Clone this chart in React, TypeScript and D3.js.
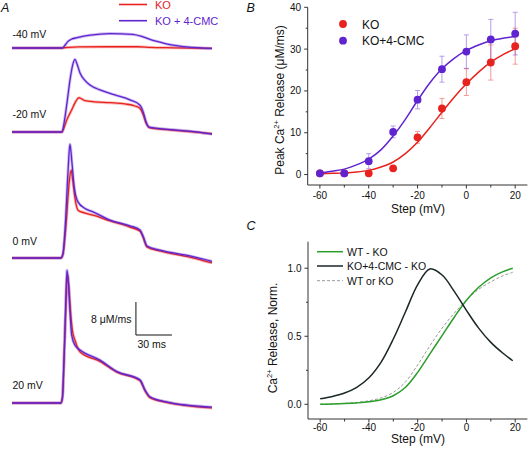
import React from "react";
import * as d3 from "d3";

const FONT = "'Liberation Sans', Arial, sans-serif";
const RED = "#e8221e";
const PURPLE = "#5f24d0";
const GREEN = "#2a9e2a";
const DARK = "#1b2727";
const AXIS = "#333";

type P = [number, number];

// ---------- Panel A: release traces [time (ms), flux (uM/ms)] ----------
const koM40: P[] = [[0,0],[40,0],[45,0.1],[55,0.25],[80,0.3],[105,0.3],[115,0.15],[135,0.05],[166.7,-0.1]];
const cmcM40: P[] = [[0,0],[42,0],[44,0.6],[46.7,1.6],[50,2.2],[54.2,2.5],[65,3.1],[81.7,3.5],[100.8,3.3],[109.2,2.7],[115,2.1],[120.8,1.6],[131.7,0.8],[145.8,0.25],[166.7,-0.1]];
const koM20: P[] = [[0,0],[41.7,0],[43.3,1],[45.8,3],[50,5.5],[53.3,7.5],[55.8,8.3],[60.8,7.6],[69.2,7.3],[81.7,7.1],[94.2,6.8],[102.5,6.3],[106.7,5.7],[109.2,4.3],[111.7,2.2],[115,1.0],[131.7,0.5],[166.7,-0.4]];
const cmcM20: P[] = [[0,0],[41.7,0],[43.3,2],[45.8,7],[48.3,12.5],[50.8,16.5],[52.5,17.6],[54.2,16.5],[56.7,14.3],[60.8,12.5],[65,11.4],[73.3,10.2],[85.8,9.0],[98.3,7.8],[106.7,6.5],[109.2,5.0],[111.7,2.5],[114.2,1.2],[131.7,0.6],[148.3,0.2],[166.7,-0.5]];
const ko0: P[] = [[0,0],[40.8,0],[42.5,1],[45,8],[47.5,17.7],[49.2,21.3],[50.8,18.5],[52.5,14.5],[55,11.6],[60.8,10.9],[67.5,10.4],[81.7,9.0],[98.3,7.5],[106.7,6.5],[109.2,5.1],[112.5,2.7],[123.3,1.7],[148.3,0.2],[166.7,-1.2]];
const cmc0: P[] = [[0,0],[40.8,0],[42.5,1],[44.2,6.8],[46.7,21],[48.3,27.6],[50,23],[51.7,17.5],[55,13.6],[60.8,12.0],[67.5,11.2],[81.7,9.2],[98.3,7.8],[106.7,6.8],[109.2,5.3],[112.5,2.9],[123.3,1.9],[148.3,0.5],[166.7,-0.8]];
const ko20: P[] = [[0,0],[40.8,0],[42.1,1.5],[43.3,10],[44.6,21],[46.2,31],[47.5,27.5],[48.8,22],[50.4,17.5],[52.5,15.2],[55,13.2],[57,12.3],[73.3,10.1],[87.5,7.5],[106.7,5.4],[110.8,3.0],[115,1.3],[128.3,0.2],[166.7,-1.2]];
const cmc20: P[] = [[0,0],[40.8,0],[42.1,1.5],[43.3,10],[44.6,22],[45.8,32.2],[47.1,29],[48.3,22.5],[49.7,16.5],[52.5,14],[57,12.8],[73.3,10.4],[87.5,7.6],[106.7,5.6],[110.8,3.2],[115,1.5],[128.3,0.3],[166.7,-1.0]];
const traceLabels = ["-40 mV", "-20 mV", "0 mV", "20 mV"];
const scaleBarFlux = 8;
const scaleBarTime = 30;

// ---------- Panel B: peak release vs step ----------
const stepsB = [-60, -50, -40, -30, -20, -10, 0, 10, 20];
const koPeak = [0.3, 0.3, 0.3, 1.5, 8.9, 15.8, 22.1, 26.8, 30.7];
const koErr = [0.2, 0.2, 0.2, 0.3, 1.4, 2.4, 3.2, 4.2, 4.3];
const cmcPeak = [0.3, 0.3, 3.2, 10.2, 17.9, 25.2, 29.4, 32.3, 33.7];
const cmcErr = [0.2, 0.2, 1.8, 1.4, 2.2, 3.1, 4.0, 4.8, 5.1];
const fitSteps = [-60, -55, -50, -45, -40, -35, -30, -25, -20, -15, -10, -5, 0, 5, 10, 15, 20];
const koFit = [0.2, 0.3, 0.4, 0.6, 1.0, 1.8, 3.0, 5.0, 7.7, 11.2, 14.9, 18.5, 21.7, 24.5, 26.9, 28.7, 30.1];
const cmcFit = [0.4, 0.8, 1.3, 2.3, 3.7, 5.9, 9.2, 13.2, 17.7, 21.9, 25.3, 27.8, 29.7, 31.0, 32.0, 32.6, 33.0];

// ---------- Panel C: normalized release ----------
const normSteps = [-60, -55, -50, -45, -40, -35, -30, -25, -20, -15, -10, -5, 0, 5, 10, 15, 19];
const wtMinusKo = [0.0, 0.002, 0.005, 0.01, 0.018, 0.033, 0.063, 0.125, 0.235, 0.37, 0.505, 0.64, 0.765, 0.86, 0.93, 0.975, 1.0];
const cmcMinusKo = [0.04, 0.058, 0.083, 0.125, 0.195, 0.31, 0.48, 0.68, 0.88, 0.995, 0.95, 0.83, 0.69, 0.56, 0.455, 0.375, 0.32];
const wtOrKo = [0.0, 0.003, 0.007, 0.014, 0.026, 0.047, 0.088, 0.165, 0.29, 0.43, 0.56, 0.67, 0.765, 0.845, 0.9, 0.945, 0.97];

const zip = (xs: number[], ys: number[]): P[] => xs.map((x, i) => [x, ys[i]]);

export default function App() {
  // Panel A scales
  const xA = d3.scaleLinear().domain([0, 166.7]).range([12, 212]);
  const yA = d3.scaleLinear().domain([0, 8]).range([0, -33]);
  const bases = [48, 132, 258, 403];
  const tracePairs: [P[], P[]][] = [[koM40, cmcM40], [koM20, cmcM20], [ko0, cmc0], [ko20, cmc20]];
  const labelY = [38.3, 118.3, 245, 389.3];
  const traceLine = (base: number) =>
    d3.line<P>().x((d) => xA(d[0])).y((d) => base + yA(d[1])).curve(d3.curveMonotoneX);

  // Panel B scales
  const xB = d3.scaleLinear().domain([-65, 25]).range([307.7, 527.4]);
  const yB = d3.scaleLinear().domain([-2.5, 40]).range([185, 7.3]);
  const lineB = d3.line<P>().x((d) => xB(d[0])).y((d) => yB(d[1])).curve(d3.curveCatmullRom.alpha(0.5));

  // Panel C scales
  const xC = d3.scaleLinear().domain([-65, 25]).range([308, 527.4]);
  const yC = d3.scaleLinear().domain([-0.108, 1.195]).range([419, 241.7]);
  const lineC = d3.line<P>().x((d) => xC(d[0])).y((d) => yC(d[1])).curve(d3.curveCatmullRom.alpha(0.5));

  const xTicks = d3.range(-60, 21, 10);

  const xAxis = (xs: d3.ScaleLinear<number, number>, y0: number, labY: number) => (
    <g>
      <line x1={xs.range()[0]} x2={xs.range()[1]} y1={y0} y2={y0} stroke={AXIS} strokeWidth={1} />
      {xTicks.map((t) => {
        const major = t % 20 === 0;
        return (
          <g key={t}>
            <line x1={xs(t)} x2={xs(t)} y1={y0} y2={y0 + (major ? 3.5 : 2.5)} stroke={AXIS} strokeWidth={1} />
            {major && (
              <text x={xs(t)} y={labY} textAnchor="middle" fontSize={10} fill="#111">{t}</text>
            )}
          </g>
        );
      })}
    </g>
  );

  const yAxis = (
    ys: d3.ScaleLinear<number, number>,
    x0: number,
    majors: number[],
    minors: number[],
    fmt: (v: number) => string
  ) => (
    <g>
      <line x1={x0} x2={x0} y1={ys.range()[0]} y2={ys.range()[1]} stroke={AXIS} strokeWidth={1} />
      {minors.map((v) => (
        <line key={"m" + v} x1={x0 - 2} x2={x0} y1={ys(v)} y2={ys(v)} stroke={AXIS} strokeWidth={1} />
      ))}
      {majors.map((v) => (
        <g key={v}>
          <line x1={x0 - 3.5} x2={x0} y1={ys(v)} y2={ys(v)} stroke={AXIS} strokeWidth={1} />
          <text x={x0 - 6.5} y={ys(v)} dy="0.35em" textAnchor="end" fontSize={10} fill="#111">{fmt(v)}</text>
        </g>
      ))}
    </g>
  );

  const koPts = zip(stepsB, koPeak);
  const cmcPts = zip(stepsB, cmcPeak);

  const errBars = (pts: P[], errs: number[], color: string) =>
    pts.map((d, i) => {
      const x = xB(d[0]);
      const y1 = yB(d[1] - errs[i]);
      const y2 = yB(d[1] + errs[i]);
      return (
        <g key={i} stroke={color} strokeWidth={1} opacity={0.45}>
          <line x1={x} x2={x} y1={y1} y2={y2} />
          <line x1={x - 2.5} x2={x + 2.5} y1={y1} y2={y1} />
          <line x1={x - 2.5} x2={x + 2.5} y1={y2} y2={y2} />
        </g>
      );
    });

  const sbX = xA(103.3);
  const sbY = 335;

  return (
    <div style={{ position: "absolute", left: 0, top: 0 }}>
      <svg width={529} height={449} style={{ display: "block", background: "#fff" }} fontFamily={FONT}>
        {/* ---------------- Panel A ---------------- */}
        <text x={1} y={12} fontSize={12.5} fontStyle="italic" fill="#111">A</text>
        <line x1={119} x2={147} y1={4.5} y2={4.5} stroke={RED} strokeWidth={1.6} />
        <text x={155} y={8.5} fontSize={11} fill={RED}>KO</text>
        <line x1={119} x2={147} y1={20.7} y2={20.7} stroke={PURPLE} strokeWidth={1.6} />
        <text x={155} y={25} fontSize={11} fill={PURPLE}>KO + 4-CMC</text>

        {tracePairs.map(([ko, cmc], i) => {
          const ln = traceLine(bases[i]);
          return (
            <g key={i} fill="none" strokeLinejoin="round">
              <path d={ln(ko) || ""} stroke={RED} strokeWidth={3} opacity={0.3} />
              <path d={ln(ko) || ""} stroke={RED} strokeWidth={1.3} />
              <path d={ln(cmc) || ""} stroke={PURPLE} strokeWidth={3} opacity={0.3} />
              <path d={ln(cmc) || ""} stroke={PURPLE} strokeWidth={1.3} />
            </g>
          );
        })}
        {traceLabels.map((t, i) => (
          <text key={t} x={12.5} y={labelY[i]} fontSize={10.5} fill="#111">{t}</text>
        ))}

        {/* scale bar */}
        <line x1={sbX} x2={sbX} y1={sbY} y2={sbY + yA(scaleBarFlux)} stroke="#111" strokeWidth={1} />
        <line x1={sbX} x2={xA(103.3 + scaleBarTime)} y1={sbY} y2={sbY} stroke="#111" strokeWidth={1} />
        <text x={131.5} y={322.7} textAnchor="end" fontSize={10.5} fill="#111">8 μM/ms</text>
        <text x={137.5} y={348.3} fontSize={10.5} fill="#111">30 ms</text>

        {/* ---------------- Panel B ---------------- */}
        <text x={246.5} y={12} fontSize={12.5} fontStyle="italic" fill="#111">B</text>
        {xAxis(xB, 185, 198.5)}
        {yAxis(yB, 307.7, [0, 10, 20, 30, 40], [5, 15, 25, 35], (v) => String(v))}
        <text x={418} y={212.5} textAnchor="middle" fontSize={12} fill="#111">Step (mV)</text>
        <text transform="translate(284,100) rotate(-90)" textAnchor="middle" fontSize={12} fill="#111">
          Peak Ca<tspan fontSize={7.5} dy={-5}>2+</tspan><tspan dy={5}> Release (μM/ms)</tspan>
        </text>

        {errBars(koPts, koErr, RED)}
        {errBars(cmcPts, cmcErr, PURPLE)}
        <path d={lineB(zip(fitSteps, koFit)) || ""} fill="none" stroke={RED} strokeWidth={1.5} />
        <path d={lineB(zip(fitSteps, cmcFit)) || ""} fill="none" stroke={PURPLE} strokeWidth={1.5} />
        {koPts.map((d, i) => (
          <circle key={"k" + i} cx={xB(d[0])} cy={yB(d[1])} r={3.9} fill={RED} />
        ))}
        {cmcPts.map((d, i) => (
          <circle key={"c" + i} cx={xB(d[0])} cy={yB(d[1])} r={3.9} fill={PURPLE} />
        ))}
        <circle cx={343} cy={24} r={3.9} fill={RED} />
        <text x={362} y={28.5} fontSize={12} fill="#111">KO</text>
        <circle cx={343} cy={40.7} r={3.9} fill={PURPLE} />
        <text x={362} y={45} fontSize={12} fill="#111">KO+4-CMC</text>

        {/* ---------------- Panel C ---------------- */}
        <text x={246.5} y={230} fontSize={12.5} fontStyle="italic" fill="#111">C</text>
        {xAxis(xC, 419, 430.5)}
        {yAxis(yC, 308, [0, 0.5, 1.0], [0.25, 0.75], (v) => v.toFixed(1))}
        <text x={418} y={443} textAnchor="middle" fontSize={12} fill="#111">Step (mV)</text>
        <text transform="translate(276.5,338) rotate(-90)" textAnchor="middle" fontSize={12} fill="#111">
          Ca<tspan fontSize={7.5} dy={-5}>2+</tspan><tspan dy={5}> Release, Norm.</tspan>
        </text>

        <path d={lineC(zip(normSteps, wtOrKo)) || ""} fill="none" stroke="#999" strokeWidth={1} strokeDasharray="3,2" />
        <path d={lineC(zip(normSteps, wtMinusKo)) || ""} fill="none" stroke={GREEN} strokeWidth={1.5} />
        <path d={lineC(zip(normSteps, cmcMinusKo)) || ""} fill="none" stroke={DARK} strokeWidth={1.5} />

        <line x1={317} x2={343} y1={251.7} y2={251.7} stroke={GREEN} strokeWidth={1.5} />
        <text x={347} y={255.5} fontSize={10.5} fill="#111">WT - KO</text>
        <line x1={317} x2={343} y1={266} y2={266} stroke={DARK} strokeWidth={1.5} />
        <text x={347} y={270} fontSize={10.5} fill="#111">KO+4-CMC - KO</text>
        <line x1={317} x2={343} y1={280.7} y2={280.7} stroke="#999" strokeWidth={1} strokeDasharray="3,2" />
        <text x={347} y={284.5} fontSize={10.5} fill="#111">WT or KO</text>
      </svg>
    </div>
  );
}
